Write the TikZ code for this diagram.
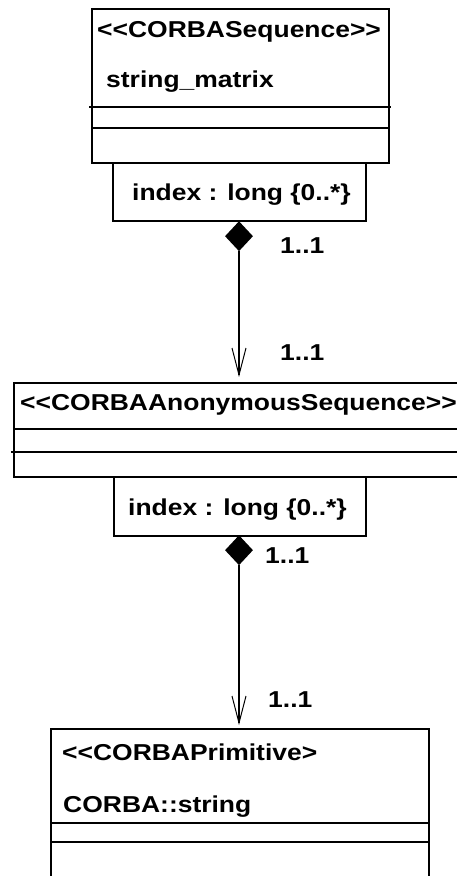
\documentclass[tikz,border=0pt]{standalone}
\usepackage{fontspec}
\setmainfont{Liberation Sans}[Ligatures=TeXOff]
\usetikzlibrary{shapes.geometric}
\begin{document}
\begin{tikzpicture}[x=1pt,y=-1pt,
  box/.style={draw=black,line width=2pt,inner sep=0pt,rectangle},
  sep/.style={line width=2pt},
  txt/.style={inner sep=0pt,anchor=base west,xscale=1.15,font=\fontsize{23}{23}\selectfont\bfseries},
  conn/.style={line width=1.3pt},
  barb/.style={line width=1pt},
  dia/.style={diamond,fill=black,draw=none,inner sep=0pt,minimum width=28pt,minimum height=30pt}]
\clip (0,0) rectangle (457,876);
\fill[white] (0,0) rectangle (457,876);
% class 1
\node[box,minimum width=297pt,minimum height=154pt] (b1) at (240.5,86) {};
\draw[sep] (89,107) -- (391,107);
\draw[sep] (b1.west |- 0,128) -- (b1.east |- 0,128);
\node[txt] (t1a) at (97,37) {<<CORBASequence>>};
\node[txt] (t1b) at (106,87) {string\_matrix};
\node[box,minimum width=253pt,minimum height=58pt] (i1) at (239.5,192) {};
\node[txt] (i1t) at (132,200) {index : long \{0..*\}};
% class 2
\node[box,minimum width=460pt,minimum height=94pt] (b2) at (244,430) {};
\draw[sep] (b2.west |- 0,429) -- (b2.east |- 0,429);
\draw[sep] (11,452) -- (b2.east |- 0,452);
\node[txt] (t2a) at (20,410) {<<CORBAAnonymousSequence>>};
\node[box,minimum width=252pt,minimum height=59pt] (i2) at (240,506.5) {};
\node[txt] (i2t) at (128,515) {index : long \{0..*\}};
% class 3
\node[box,minimum width=378pt,minimum height=180pt] (b3) at (240,819) {};
\draw[sep] (b3.west |- 0,823) -- (b3.east |- 0,823);
\draw[sep] (b3.west |- 0,842) -- (b3.east |- 0,842);
\node[txt] (t3a) at (62,760) {<<CORBAPrimitive>};
\node[txt] (t3b) at (63,812) {CORBA::string};
% association 1
\node[dia,anchor=north] (d1) at (239,221) {};
\coordinate (a1) at (239,375);
\draw[conn] (d1.south) -- (a1);
\draw[barb] ([xshift=-7pt,yshift=27pt]a1) -- (a1) -- ([xshift=7pt,yshift=27pt]a1);
\node[txt] (l1) at (280,253) {1..1};
\node[txt] (l2) at (280,360) {1..1};
% association 2
\node[dia,anchor=north] (d2) at (239,535) {};
\coordinate (a2) at (239,723);
\draw[conn] (d2.south) -- (a2);
\draw[barb] ([xshift=-7pt,yshift=27pt]a2) -- (a2) -- ([xshift=7pt,yshift=27pt]a2);
\node[txt] (l3) at (265,563) {1..1};
\node[txt] (l4) at (268,707) {1..1};
\end{tikzpicture}
\end{document}
